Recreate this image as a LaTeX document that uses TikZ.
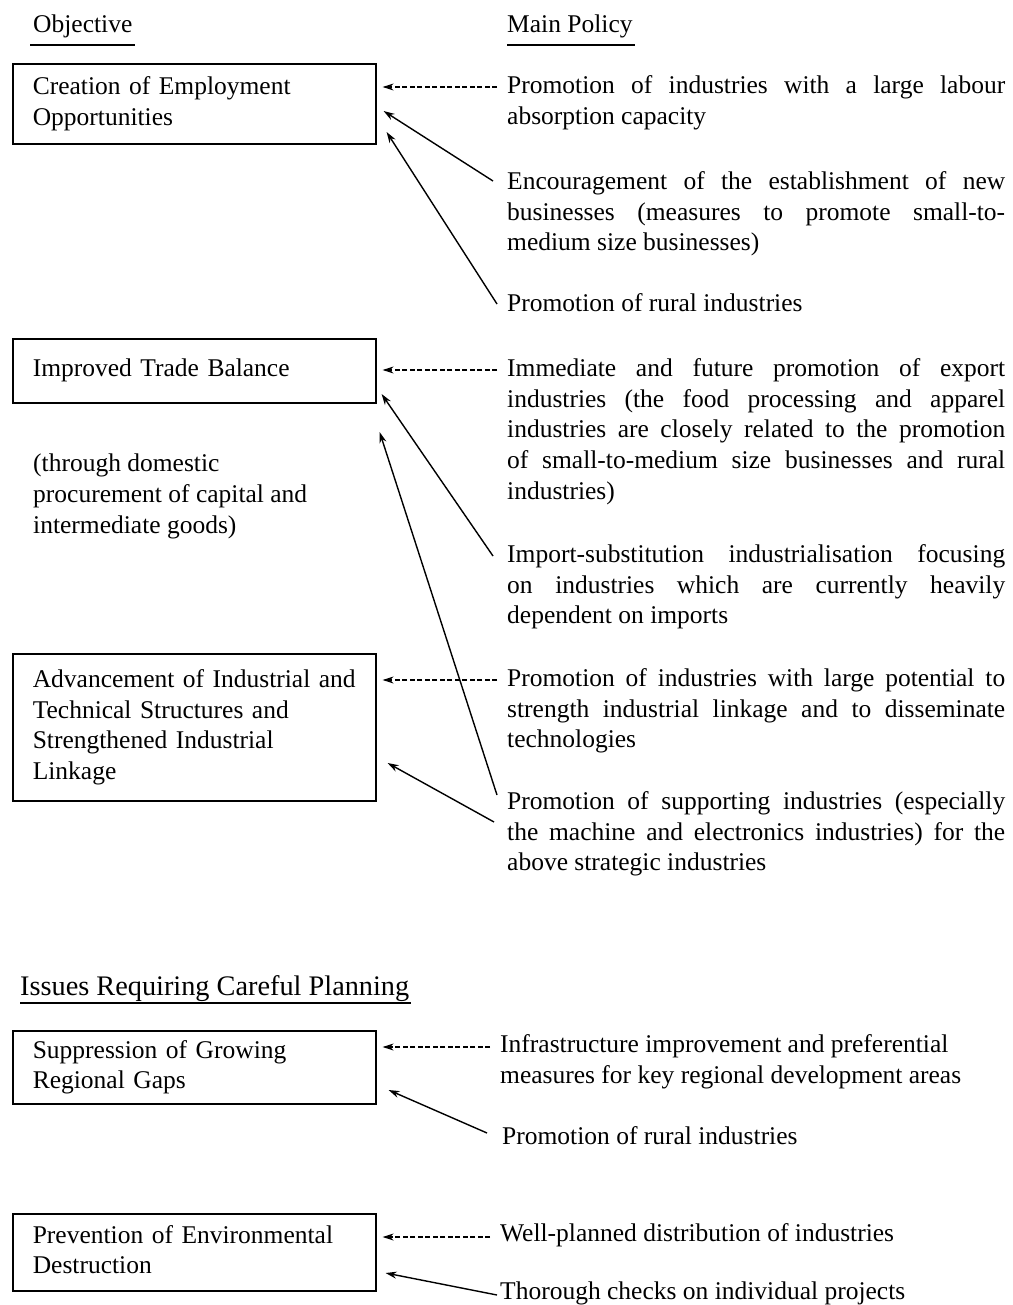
\documentclass[tikz,border=0pt]{standalone}
\usepackage{fontspec}
\setmainfont{Liberation Serif}
\usetikzlibrary{arrows.meta,calc}
\newcommand\pfont{\fontsize{25.5}{30.8}\selectfont\tolerance=10000\hbadness=10000}
\newcommand\hfont{\fontsize{28.3}{31}\selectfont}
\begin{document}
\begin{tikzpicture}[x=1pt,y=-1pt,
  hd/.style={anchor=base west, inner sep=0pt, font=\pfont},
  objbox/.style={draw, line width=1.6pt, anchor=north west, minimum width=363pt,
    inner xsep=20pt, inner ysep=0pt, text width=323pt, align=left, font=\pfont},
  pol/.style={anchor=north west, inner sep=0pt, text width=498pt, align=justify, font=\pfont},
  polL/.style={anchor=north west, inner sep=0pt, align=left, font=\pfont},
  uline/.style={line width=1.2pt},
  tip/.style={-{Stealth[length=11pt,width=7pt]}, line width=1.4pt},
  dtip/.style={tip, line width=1.1pt, dash pattern=on 5pt off 2.5pt},
]
\fill[white] (0,0) rectangle (1012,1305);
\useasboundingbox (0,0) rectangle (1012,1305);

% headings
\node[hd] (hobj) at (33,33) {Objective};
\draw[uline] ($(hobj.base west)+(-3,12)$) -- ($(hobj.base east)+(2,12)$);
\node[hd] (hpol) at (507,33) {Main Policy};
\draw[uline] ($(hpol.base west)+(0,12)$) -- ($(hpol.base east)+(2,12)$);
\node[hd, font=\hfont] (hiss) at (20,995) {Issues Requiring Careful Planning};
\draw[uline] ($(hiss.base west)+(0,8)$) -- ($(hiss.base east)+(2,8)$);

% objective boxes
\node[objbox, minimum height=80pt] (b1) at (12,63) {\strut Creation of Employment\\Opportunities\strut};
\node[objbox, minimum height=64pt] (b2) at (12,338) {\strut Improved Trade Balance\strut};
\node[objbox, minimum height=147pt] (b3) at (12,653) {\strut Advancement of Industrial and\\Technical Structures and\\Strengthened Industrial\\Linkage\strut};
\node[objbox, minimum height=73pt] (b4) at (12,1030) {\strut Suppression of Growing\\Regional Gaps\strut};
\node[objbox, minimum height=77pt] (b5) at (12,1213) {\strut Prevention of Environmental\\Destruction\strut};

\node[polL] (note) at (33,450) {\strut(through domestic\\procurement of capital and\\intermediate goods)};

% policies
\node[pol] (p1) at (507,71.5) {\strut Promotion of industries with a large labour\linebreak absorption capacity};
\node[pol] (p2) at (507,167.5) {\strut Encouragement of the establishment of new\linebreak businesses (measures to promote small-to-\linebreak medium size businesses)};
\node[hd] (p3) at (507,312) {Promotion of rural industries};
\node[pol] (p4) at (507,354.5) {\strut Immediate and future promotion of export\linebreak industries (the food processing and apparel\linebreak industries are closely related to the promotion\linebreak of small-to-medium size businesses and rural\linebreak industries)};
\node[pol] (p5) at (507,540.5) {\strut Import-substitution industrialisation focusing\linebreak on industries which are currently heavily\linebreak dependent on imports};
\node[pol] (p6) at (507,664.5) {\strut Promotion of industries with large potential to\linebreak strength industrial linkage and to disseminate\linebreak technologies};
\node[pol] (p7) at (507,787.5) {\strut Promotion of supporting industries (especially\linebreak the machine and electronics industries) for the\linebreak above strategic industries};
\node[polL] (p8) at (500,1031) {\strut Infrastructure improvement and preferential\\measures for key regional development areas};
\node[hd] (p9) at (502,1144) {Promotion of rural industries};
\node[hd] (p10) at (500,1241) {Well-planned distribution of industries};
\node[hd] (p11) at (500,1299) {Thorough checks on individual projects};

% connectors
\draw[dtip] ($(p1.north west)+(-10,15.5)$) -- ($(b1.north east)+(6,24)$);
\draw[tip] ($(p2.north west)+(-14,13.5)$) -- ($(b1.north east)+(7,48)$);
\draw[tip] ($(p3.base west)+(-10,-8)$) -- ($(b1.north east)+(10,69)$);
\draw[dtip] ($(p4.north west)+(-10,15.5)$) -- ($(b2.north east)+(6,32)$);
\draw[tip] ($(p5.north west)+(-14,15.5)$) -- ($(b2.north east)+(5,56)$);
\draw[tip] ($(p7.north west)+(-10,7.5)$) -- ($(b2.north east)+(3,94)$);
\draw[dtip] ($(p6.north west)+(-10,15.5)$) -- ($(b3.north east)+(6,27)$);
\draw[tip] ($(p7.north west)+(-13,34.5)$) -- ($(b3.north east)+(11,110)$);
\draw[dtip] ($(p8.north west)+(-10,16)$) -- ($(b4.north east)+(6,17)$);
\draw[tip] ($(p9.base west)+(-15,-11)$) -- ($(b4.north east)+(12,60)$);
\draw[dtip] ($(p10.base west)+(-10,-4)$) -- ($(b5.north east)+(6,24)$);
\draw[tip] ($(p11.base west)+(-3,-4)$) -- ($(b5.north east)+(9,60)$);
\end{tikzpicture}
\end{document}
